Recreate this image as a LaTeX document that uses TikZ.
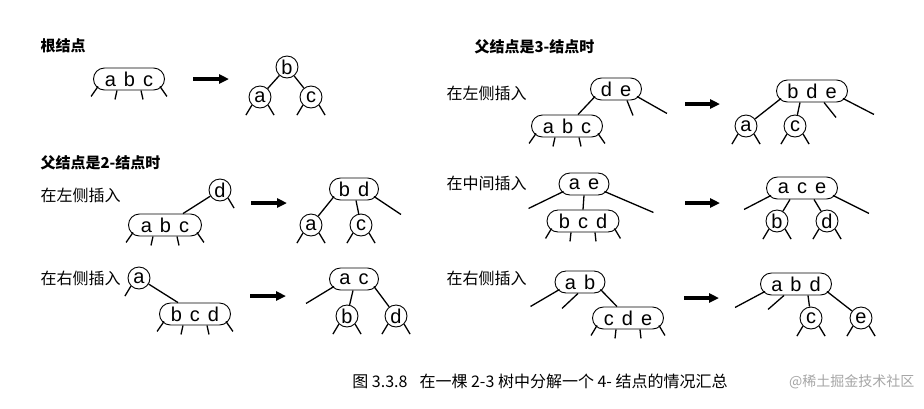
\documentclass[tikz,border=0pt]{standalone}
\usepackage{fontspec}
\setmainfont{Liberation Sans}
\newfontfamily\cjk{Noto Sans CJK SC}
\usetikzlibrary{arrows.meta}
\tikzset{
  key/.style={circle,draw,line width=0.9pt,inner sep=0pt,minimum size=22pt,font=\fontsize{20}{20}\selectfont},
  keys/.style={rectangle,draw,line width=0.9pt,rounded corners=11pt,inner sep=0pt,minimum height=22pt,minimum width=#1,font=\fontsize{20}{20}\selectfont},
  link/.style={line width=1.3pt},
  split/.style={line width=3.2pt,-{Triangle[length=10pt,width=9pt]}},
  head/.style={anchor=west,font=\cjk\fontsize{15}{15}\selectfont\bfseries},
  case/.style={anchor=west,font=\cjk\fontsize{16}{16}\selectfont}
}
\newcommand{\kk}{\hspace{8pt}}
\begin{document}
\begin{tikzpicture}[x=1pt,y=-1pt]
\useasboundingbox[fill=white] (0,0) rectangle (924,408);
% headings
\node[head] (h1) at (37,46) {根结点};
\node[head] (h2) at (37,163) {父结点是2-结点时};
\node[case] (h2l) at (37,195) {在左侧插入};
\node[case] (h2r) at (37,278) {在右侧插入};
\node[head] (h3) at (471,47) {父结点是3-结点时};
\node[case] (h3l) at (443,93) {在左侧插入};
\node[case] (h3m) at (443,183) {在中间插入};
\node[case] (h3r) at (443,278) {在右侧插入};

% root
\node[keys=71pt] (r4) at (129,79) {a\kk b\kk c};
\draw[link] ([shift={(5pt,4pt)}]r4.south west) -- ++(-7,10);
\draw[link] ([xshift=-12pt]r4.south) -- ++(-2,9);
\draw[link] ([xshift=12pt]r4.south) -- ++(2,9);
\draw[link] ([shift={(-5pt,4pt)}]r4.south east) -- ++(7,10);
\coordinate (r0) at (193,79); \coordinate (r1) at (229,79);
\draw[split] (r0) -- (r1);
\node[key] (rb) at (287,67) {b};
\node[key] (ra) at (260,97) {a};
\node[key] (rc) at (311,97) {c};
\draw[link] (rb) -- (ra); \draw[link] (rb) -- (rc);
\foreach \n in {ra,rc}{
  \draw[link] (\n.south west) -- ++(-6,10);
  \draw[link] (\n.south east) -- ++(6,10);
}

% 2-node parent, left
\node[key] (pd) at (220,190) {d};
\node[keys=73pt] (la) at (165,225) {a\kk b\kk c};
\draw[link] (pd) -- ([xshift=18pt]la.north);
\draw[link] (pd.south east) -- ++(6,10);
\draw[link] ([shift={(5pt,4pt)}]la.south west) -- ++(-7,10);
\draw[link] ([xshift=-12pt]la.south) -- ++(-2,9);
\draw[link] ([xshift=12pt]la.south) -- ++(2,9);
\draw[link] ([shift={(-5pt,4pt)}]la.south east) -- ++(7,10);
\coordinate (l0) at (251,203); \coordinate (l1) at (287,203);
\draw[split] (l0) -- (l1);
\node[keys=49pt] (lbd) at (354,189) {b\kk d};
\node[key] (lka) at (311,225) {a};
\node[key] (lkc) at (361,225) {c};
\draw[link] ([shift={(5pt,4pt)}]lbd.south west) -- (lka);
\draw[link] ([xshift=2pt]lbd.south) -- (lkc);
\draw[link] ([shift={(-5pt,4pt)}]lbd.south east) -- ++(27,18);
\foreach \n in {lka,lkc}{
  \draw[link] (\n.south west) -- ++(-6,10);
  \draw[link] (\n.south east) -- ++(6,10);
}

% 2-node parent, right
\node[key] (pa) at (139,278) {a};
\node[keys=71pt] (rb4) at (195,314) {b\kk c\kk d};
\draw[link] (pa) -- ([xshift=-17pt]rb4.north);
\draw[link] (pa.south west) -- ++(-6,10);
\draw[link] ([shift={(5pt,4pt)}]rb4.south west) -- ++(-7,10);
\draw[link] ([xshift=-12pt]rb4.south) -- ++(-2,9);
\draw[link] ([xshift=12pt]rb4.south) -- ++(2,9);
\draw[link] ([shift={(-5pt,4pt)}]rb4.south east) -- ++(7,10);
\coordinate (q0) at (250,296); \coordinate (q1) at (286,296);
\draw[split] (q0) -- (q1);
\node[keys=49pt] (rac) at (354,279) {a\kk c};
\node[key] (rkb) at (347,316) {b};
\node[key] (rkd) at (396,316) {d};
\draw[link] ([shift={(5pt,4pt)}]rac.south west) -- ++(-28,17);
\draw[link] ([xshift=-1pt]rac.south) -- (rkb);
\draw[link] ([shift={(-5pt,4pt)}]rac.south east) -- (rkd);
\foreach \n in {rkb,rkd}{
  \draw[link] (\n.south west) -- ++(-6,10);
  \draw[link] (\n.south east) -- ++(6,10);
}

% 3-node parent, left
\node[keys=51pt] (tde) at (616,89) {d\kk e};
\node[keys=71pt] (tab) at (567,126) {a\kk b\kk c};
\draw[link] ([shift={(5pt,4pt)}]tde.south west) -- ([xshift=11pt]tab.north);
\draw[link] ([xshift=11pt]tde.south) -- ++(6,15);
\draw[link] ([shift={(-5pt,4pt)}]tde.south east) -- ++(30,17);
\draw[link] ([shift={(5pt,4pt)}]tab.south west) -- ++(-7,10);
\draw[link] ([xshift=-12pt]tab.south) -- ++(-2,9);
\draw[link] ([xshift=12pt]tab.south) -- ++(2,9);
\draw[link] ([shift={(-5pt,4pt)}]tab.south east) -- ++(7,10);
\coordinate (t0) at (685,104); \coordinate (t1) at (720,104);
\draw[split] (t0) -- (t1);
\node[keys=71pt] (tbde) at (812,91) {b\kk d\kk e};
\node[key] (tka) at (746,126) {a};
\node[key] (tkc) at (795,126) {c};
\draw[link] ([shift={(5pt,4pt)}]tbde.south west) -- (tka);
\draw[link] ([xshift=-12pt]tbde.south) -- (tkc);
\draw[link] ([xshift=12pt]tbde.south) -- ++(12,15);
\draw[link] ([shift={(-5pt,4pt)}]tbde.south east) -- ++(31,16);
\foreach \n in {tka,tkc}{
  \draw[link] (\n.south west) -- ++(-6,10);
  \draw[link] (\n.south east) -- ++(6,10);
}

% 3-node parent, middle
\node[keys=50pt] (mae) at (584,184) {a\kk e};
\node[keys=72pt] (mbc) at (583,221) {b\kk c\kk d};
\draw[link] ([shift={(5pt,4pt)}]mae.south west) -- ++(-35,17);
\draw[link] (mae.south) -- (mbc.north);
\draw[link] ([shift={(-5pt,4pt)}]mae.south east) -- ++(49,21);
\draw[link] ([shift={(5pt,4pt)}]mbc.south west) -- ++(-6,10);
\draw[link] ([xshift=-12pt]mbc.south) -- ++(-1,9);
\draw[link] ([xshift=12pt]mbc.south) -- ++(1,9);
\draw[link] ([shift={(-5pt,4pt)}]mbc.south east) -- ++(6,10);
\coordinate (m0) at (685,203); \coordinate (m1) at (720,203);
\draw[split] (m0) -- (m1);
\node[keys=71pt] (mace) at (802,188) {a\kk c\kk e};
\node[key] (mkb) at (777,221) {b};
\node[key] (mkd) at (827,221) {d};
\draw[link] ([shift={(5pt,4pt)}]mace.south west) -- ++(-27,14);
\draw[link] ([xshift=-12pt]mace.south) -- (mkb);
\draw[link] ([xshift=12pt]mace.south) -- (mkd);
\draw[link] ([shift={(-5pt,4pt)}]mace.south east) -- ++(36,18);
\foreach \n in {mkb,mkd}{
  \draw[link] (\n.south west) -- ++(-6,10);
  \draw[link] (\n.south east) -- ++(6,10);
}

% 3-node parent, right
\node[keys=50pt] (sab) at (580,282) {a\kk b};
\node[keys=71pt] (scde) at (628,318) {c\kk d\kk e};
\draw[link] ([shift={(5pt,4pt)}]sab.south west) -- ++(-29,17);
\draw[link] ([xshift=-2pt]sab.south) -- ++(-16,15);
\draw[link] ([shift={(-5pt,4pt)}]sab.south east) -- ([xshift=-11pt]scde.north);
\draw[link] ([shift={(5pt,4pt)}]scde.south west) -- ++(-6,10);
\draw[link] ([xshift=-12pt]scde.south) -- ++(-1,9);
\draw[link] ([xshift=12pt]scde.south) -- ++(1,9);
\draw[link] ([shift={(-5pt,4pt)}]scde.south east) -- ++(6,10);
\coordinate (s0) at (684,298); \coordinate (s1) at (719,298);
\draw[split] (s0) -- (s1);
\node[keys=71pt] (sabd) at (796,284) {a\kk b\kk d};
\node[key] (skc) at (811,318) {c};
\node[key] (ske) at (861,318) {e};
\draw[link] ([shift={(5pt,4pt)}]sabd.south west) -- ++(-30,16);
\draw[link] ([xshift=-12pt]sabd.south) -- ++(-16,14);
\draw[link] ([xshift=12pt]sabd.south) -- (skc);
\draw[link] ([shift={(-5pt,4pt)}]sabd.south east) -- (ske);
\foreach \n in {skc,ske}{
  \draw[link] (\n.south west) -- ++(-6,10);
  \draw[link] (\n.south east) -- ++(6,10);
}

% caption
\node[font=\cjk\fontsize{16}{16}\selectfont] (cap) at (540,381) {图 3.3.8\hspace{12pt}在一棵 2-3 树中分解一个 4- 结点的情况汇总};
\node[anchor=east,text=black!35,font=\cjk\fontsize{14}{14}\selectfont] (wm) at (918,382) {@稀土掘金技术社区};
\end{tikzpicture}
\end{document}
